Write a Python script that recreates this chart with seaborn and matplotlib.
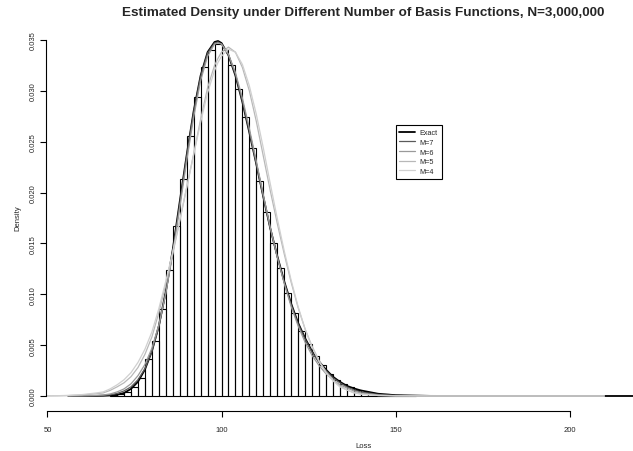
import numpy as np
import matplotlib
matplotlib.use("Agg")
import matplotlib.pyplot as plt
from matplotlib.lines import Line2D
import seaborn as sns

# Histogram of simulated losses (bin width 2), density scale
bin_edges = list(range(68, 158, 2))
bin_density = [
    0.00005, 0.00015, 0.00040, 0.00090, 0.0018, 0.0036, 0.0054, 0.0086,
    0.0124, 0.0167, 0.0213, 0.0256, 0.0294, 0.0323, 0.0340, 0.0346,
    0.0340, 0.0325, 0.0302, 0.0274, 0.0244, 0.0211, 0.0181, 0.0150,
    0.0126, 0.0101, 0.0082, 0.0064, 0.0051, 0.0039, 0.0030, 0.0022,
    0.0016, 0.0012, 0.00086, 0.00062, 0.00044, 0.00031, 0.00022, 0.00015,
    0.00010, 0.00007, 0.00004, 0.00003,
]

# Density curves evaluated on a common loss grid
loss_grid = [50, 53, 56, 60, 64, 66, 68, 70, 72, 74, 76, 78, 80, 82, 84, 86,
             88, 90, 92, 94, 96, 98, 99, 100, 102, 104, 106, 108, 110, 112,
             114, 116, 118, 120, 122, 124, 126, 128, 130, 132, 134, 136, 138,
             140, 145, 150, 160, 180, 200, 210, 226]
nan = np.nan
exact = [nan, nan, 0.0, 0.000002, 0.00001, 0.00002, 0.00005, 0.00012, 0.0003,
         0.0007, 0.0014, 0.0026, 0.0044, 0.0069, 0.0103, 0.0144, 0.0191,
         0.0237, 0.0280, 0.0315, 0.0338, 0.0348, 0.0349, 0.0347, 0.0335,
         0.0315, 0.0289, 0.0259, 0.0228, 0.0196, 0.0165, 0.0138, 0.0113,
         0.0091, 0.0072, 0.0057, 0.0044, 0.0034, 0.0026, 0.0019, 0.0014,
         0.0010, 0.00075, 0.00055, 0.00022, 0.00008, 0.00001, 0.0, 0.0, 0.0,
         0.0]
m7 = [nan, nan, 0.0, 0.00001, 0.00003, 0.00006, 0.00012, 0.00025, 0.0005,
      0.0009, 0.0016, 0.0027, 0.0044, 0.0068, 0.0101, 0.0142, 0.0189, 0.0236,
      0.0279, 0.0314, 0.0337, 0.0347, 0.0348, 0.0346, 0.0335, 0.0316, 0.0290,
      0.0260, 0.0228, 0.0196, 0.0165, 0.0137, 0.0112, 0.0090, 0.0071, 0.0056,
      0.0043, 0.0033, 0.0025, 0.0018, 0.0013, 0.0009, 0.0006, 0.0004,
      0.00015, 0.00005, 0.00001, 0.0, 0.0, 0.0, nan]
m6 = [nan, nan, 0.0, 0.00002, 0.00006, 0.0001, 0.0002, 0.0004, 0.0007, 0.0012,
      0.0020, 0.0031, 0.0047, 0.0070, 0.0101, 0.0140, 0.0185, 0.0231, 0.0274,
      0.0310, 0.0334, 0.0346, 0.0347, 0.0346, 0.0336, 0.0318, 0.0293, 0.0263,
      0.0231, 0.0198, 0.0166, 0.0137, 0.0111, 0.0088, 0.0069, 0.0053, 0.0040,
      0.0030, 0.0022, 0.0016, 0.0011, 0.0008, 0.0005, 0.0003, 0.0001,
      0.00003, 0.0, 0.0, 0.0, 0.0, nan]
m5 = [0.00001, 0.00002, 0.00004, 0.0001, 0.00022, 0.0003, 0.00055, 0.0009,
      0.0013, 0.0019, 0.0028, 0.0041, 0.0058, 0.0082, 0.0110, 0.0140, 0.0172,
      0.0205, 0.0238, 0.0272, 0.0303, 0.0325, 0.0332, 0.0338, 0.0343, 0.0338,
      0.0323, 0.0300, 0.0270, 0.0236, 0.0202, 0.0170, 0.0140, 0.0112, 0.0087,
      0.0066, 0.0049, 0.0035, 0.0024, 0.0016, 0.0010, 0.0006, 0.00035,
      0.0002, 0.00005, 0.00001, 0.0, 0.0, 0.0, 0.0, nan]
m4 = [0.00002, 0.00003, 0.00006, 0.00014, 0.0003, 0.0004, 0.0007, 0.0011,
      0.0016, 0.0023, 0.0033, 0.0046, 0.0063, 0.0086, 0.0113, 0.0142, 0.0173,
      0.0205, 0.0237, 0.0269, 0.0298, 0.0320, 0.0328, 0.0334, 0.0341, 0.0338,
      0.0326, 0.0305, 0.0277, 0.0244, 0.0209, 0.0175, 0.0143, 0.0114, 0.0088,
      0.0066, 0.0048, 0.0034, 0.0023, 0.0015, 0.0009, 0.0006, 0.0003,
      0.00018, 0.00005, 0.00001, 0.0, 0.0, 0.0, 0.0, nan]

curve_labels = ["Exact", "M=7", "M=6", "M=5", "M=4"]
curve_values = [exact, m7, m6, m5, m4]
curve_colors = ["#000000", "#5a5a5a", "#9a9a9a", "#b8b8b8", "#d0d0d0"]
curve_widths = [1.3, 0.9, 0.9, 0.9, 0.9]

x_ticks = [50, 100, 150, 200]
y_ticks = [0.0, 0.005, 0.010, 0.015, 0.020, 0.025, 0.030, 0.035]

sns.set_style("ticks")
plt.rcParams["font.family"] = ["Liberation Sans", "DejaVu Sans"]

W, H = 633, 452
fig = plt.figure(figsize=(W / 100, H / 100), dpi=100)
left_px, right_px, top_px, bottom_px = 46, 680, 25, 412
ax = fig.add_axes([left_px / W, 1 - bottom_px / H,
                   (right_px - left_px) / W, (bottom_px - top_px) / H])

centers = [e + 1 for e in bin_edges[:-1]]
sns.histplot(x=centers, weights=bin_density, bins=bin_edges, stat="count",
             fill=False, color="black", linewidth=0.8, element="bars", ax=ax)

for lab, vals, col, lw in zip(curve_labels, curve_values, curve_colors, curve_widths):
    sns.lineplot(x=loss_grid, y=vals, color=col, linewidth=lw, ax=ax,
                 estimator=None, sort=False)

ax.set_xlim(49.57, 231.75)
ax.set_ylim(-0.001475, 0.03657)

ax.set_xticks(x_ticks)
ax.set_xticklabels([str(v) for v in x_ticks])
ax.set_yticks(y_ticks)
ax.set_yticklabels([f"{v:.3f}" for v in y_ticks], rotation=90, va="center")
ax.tick_params(axis="both", direction="out", length=4, width=0.8,
               labelsize=5.5, color="black")
ax.tick_params(axis="x", pad=7)
ax.tick_params(axis="y", pad=3)

for side in ("top", "right"):
    ax.spines[side].set_visible(False)
ax.spines["left"].set_bounds(0.0, 0.035)
ax.spines["bottom"].set_bounds(50, 200)
for side in ("left", "bottom"):
    ax.spines[side].set_linewidth(0.8)
    ax.spines[side].set_color("black")

ax.set_xlabel("Loss", fontsize=5.5, labelpad=6)
ax.set_ylabel("Density", fontsize=5.5, labelpad=6)

handles = [Line2D([0], [0], color=c, lw=lw) for c, lw in zip(curve_colors, curve_widths)]
leg = ax.legend(handles, curve_labels, loc="upper left",
                bbox_to_anchor=(150, 0.0266), bbox_transform=ax.transData,
                fontsize=5.2, frameon=True, fancybox=False, framealpha=1,
                edgecolor="black", handlelength=2.2, handletextpad=0.6,
                labelspacing=0.35, borderpad=0.55, borderaxespad=0)
leg.get_frame().set_linewidth(0.8)

fig.text((left_px + right_px) / 2 / W, 1 - 13 / H,
         "Estimated Density under Different Number of Basis Functions, N=3,000,000",
         ha="center", va="center", fontsize=9.7, fontweight="bold")

fig.savefig("out.png", dpi=100)
